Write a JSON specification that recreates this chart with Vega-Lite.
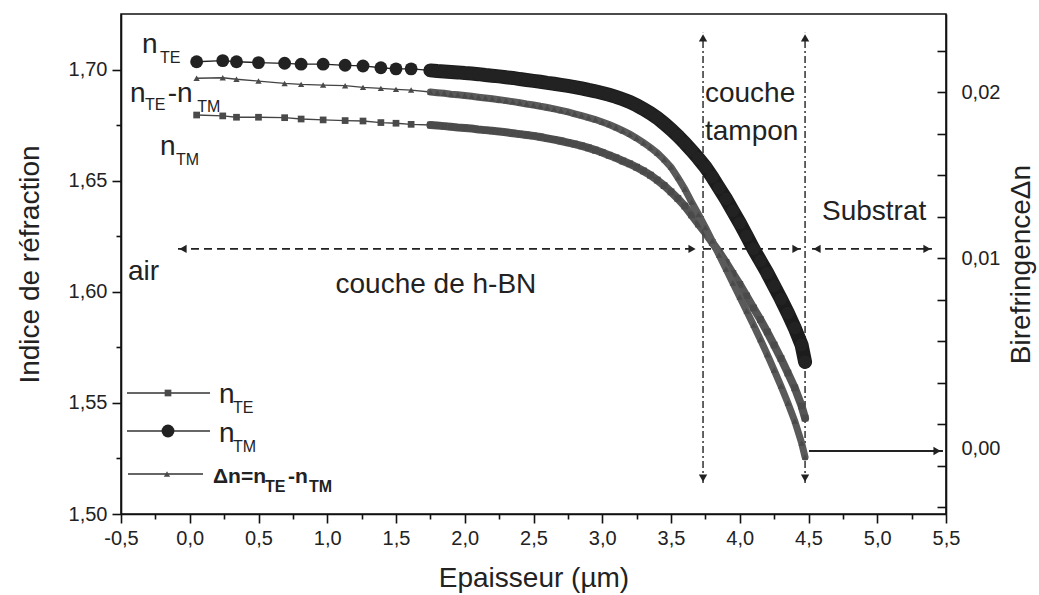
{
  "$schema": "https://vega.github.io/schema/vega-lite/v6.json",
  "width": 825,
  "height": 500,
  "autosize": {"type": "none"},
  "padding": {"left": 121, "top": 14, "right": 93, "bottom": 81},
  "background": "white",
  "config": {
    "font": "Liberation Sans",
    "view": {"stroke": "#111", "strokeWidth": 1.6},
    "axis": {"grid": false, "domainColor": "#111", "domainWidth": 1.6, "tickColor": "#111", "tickWidth": 1.6, "labelColor": "#222", "titleColor": "#222", "labelFontSize": 20, "titleFontSize": 28, "titleFontWeight": "normal", "labelOverlap": false, "labelFlush": false, "labelBound": false}
  },
  "datasets": {
    "nte": [
      {"x": 0.05, "y": 1.7037}, {"x": 0.24, "y": 1.7042}, {"x": 0.34, "y": 1.7037}, {"x": 0.5, "y": 1.7033}, {"x": 0.69, "y": 1.703}, {"x": 0.81, "y": 1.7026}, {"x": 0.97, "y": 1.7026}, {"x": 1.13, "y": 1.7021}, {"x": 1.26, "y": 1.7018}, {"x": 1.39, "y": 1.701}, {"x": 1.5, "y": 1.7005}, {"x": 1.61, "y": 1.7005},
      {"x": 1.75, "y": 1.6998}, {"x": 1.8, "y": 1.6995}, {"x": 1.85, "y": 1.6993}, {"x": 1.9, "y": 1.6991}, {"x": 1.95, "y": 1.6989}, {"x": 2.0, "y": 1.6986}, {"x": 2.05, "y": 1.6984}, {"x": 2.1, "y": 1.6981}, {"x": 2.15, "y": 1.6977}, {"x": 2.2, "y": 1.6974}, {"x": 2.25, "y": 1.6971}, {"x": 2.3, "y": 1.6967}, {"x": 2.35, "y": 1.6964}, {"x": 2.4, "y": 1.6959}, {"x": 2.45, "y": 1.6955}, {"x": 2.5, "y": 1.6951}, {"x": 2.55, "y": 1.6947}, {"x": 2.6, "y": 1.6942}, {"x": 2.65, "y": 1.6938}, {"x": 2.7, "y": 1.6933}, {"x": 2.75, "y": 1.6928}, {"x": 2.8, "y": 1.6923}, {"x": 2.85, "y": 1.6917}, {"x": 2.9, "y": 1.691}, {"x": 2.95, "y": 1.6904}, {"x": 3.0, "y": 1.6896}, {"x": 3.05, "y": 1.6888}, {"x": 3.1, "y": 1.6879}, {"x": 3.15, "y": 1.6868}, {"x": 3.2, "y": 1.6856}, {"x": 3.25, "y": 1.6841}, {"x": 3.3, "y": 1.6824}, {"x": 3.35, "y": 1.6805}, {"x": 3.4, "y": 1.6784}, {"x": 3.45, "y": 1.6759}, {"x": 3.5, "y": 1.6732}, {"x": 3.55, "y": 1.6703}, {"x": 3.6, "y": 1.6671}, {"x": 3.65, "y": 1.6637}, {"x": 3.7, "y": 1.6601}, {"x": 3.75, "y": 1.6563}, {"x": 3.8, "y": 1.6518}, {"x": 3.85, "y": 1.6468}, {"x": 3.9, "y": 1.6419}, {"x": 3.95, "y": 1.6365}, {"x": 4.0, "y": 1.6311}, {"x": 4.05, "y": 1.6253}, {"x": 4.1, "y": 1.6194}, {"x": 4.15, "y": 1.614}, {"x": 4.2, "y": 1.6086}, {"x": 4.25, "y": 1.6027}, {"x": 4.3, "y": 1.5968}, {"x": 4.35, "y": 1.5905}, {"x": 4.4, "y": 1.5838}, {"x": 4.45, "y": 1.5761}, {"x": 4.475, "y": 1.5685}
    ],
    "ntm": [
      {"x": 0.05, "y": 1.6797}, {"x": 0.24, "y": 1.6793}, {"x": 0.34, "y": 1.6787}, {"x": 0.5, "y": 1.6787}, {"x": 0.69, "y": 1.6785}, {"x": 0.81, "y": 1.6779}, {"x": 0.97, "y": 1.6775}, {"x": 1.13, "y": 1.6772}, {"x": 1.26, "y": 1.677}, {"x": 1.39, "y": 1.6763}, {"x": 1.5, "y": 1.676}, {"x": 1.61, "y": 1.6755},
      {"x": 1.75, "y": 1.6752}, {"x": 1.8, "y": 1.675}, {"x": 1.85, "y": 1.6747}, {"x": 1.9, "y": 1.6744}, {"x": 1.95, "y": 1.6741}, {"x": 2.0, "y": 1.6739}, {"x": 2.05, "y": 1.6736}, {"x": 2.1, "y": 1.6732}, {"x": 2.15, "y": 1.6729}, {"x": 2.2, "y": 1.6726}, {"x": 2.25, "y": 1.6723}, {"x": 2.3, "y": 1.6719}, {"x": 2.35, "y": 1.6715}, {"x": 2.4, "y": 1.6711}, {"x": 2.45, "y": 1.6707}, {"x": 2.5, "y": 1.6703}, {"x": 2.55, "y": 1.6698}, {"x": 2.6, "y": 1.6692}, {"x": 2.65, "y": 1.6686}, {"x": 2.7, "y": 1.668}, {"x": 2.75, "y": 1.6673}, {"x": 2.8, "y": 1.6666}, {"x": 2.85, "y": 1.6658}, {"x": 2.9, "y": 1.6649}, {"x": 2.95, "y": 1.6639}, {"x": 3.0, "y": 1.6628}, {"x": 3.05, "y": 1.6616}, {"x": 3.1, "y": 1.6604}, {"x": 3.15, "y": 1.659}, {"x": 3.2, "y": 1.6577}, {"x": 3.25, "y": 1.6562}, {"x": 3.3, "y": 1.6545}, {"x": 3.35, "y": 1.6526}, {"x": 3.4, "y": 1.6504}, {"x": 3.45, "y": 1.6479}, {"x": 3.5, "y": 1.6451}, {"x": 3.55, "y": 1.6421}, {"x": 3.6, "y": 1.6387}, {"x": 3.65, "y": 1.6347}, {"x": 3.7, "y": 1.6306}, {"x": 3.75, "y": 1.6266}, {"x": 3.8, "y": 1.6223}, {"x": 3.85, "y": 1.618}, {"x": 3.9, "y": 1.6133}, {"x": 3.95, "y": 1.6083}, {"x": 4.0, "y": 1.6034}, {"x": 4.05, "y": 1.5982}, {"x": 4.1, "y": 1.5928}, {"x": 4.15, "y": 1.5876}, {"x": 4.2, "y": 1.582}, {"x": 4.25, "y": 1.5761}, {"x": 4.3, "y": 1.57}, {"x": 4.35, "y": 1.5635}, {"x": 4.4, "y": 1.5568}, {"x": 4.45, "y": 1.5486}, {"x": 4.475, "y": 1.5432}
    ],
    "dn": [
      {"x": 0.05, "y": 0.02083}, {"x": 0.24, "y": 0.02086}, {"x": 0.34, "y": 0.02077}, {"x": 0.5, "y": 0.02066}, {"x": 0.69, "y": 0.02052}, {"x": 0.81, "y": 0.02046}, {"x": 0.97, "y": 0.02042}, {"x": 1.13, "y": 0.02038}, {"x": 1.26, "y": 0.02028}, {"x": 1.39, "y": 0.02022}, {"x": 1.5, "y": 0.02016}, {"x": 1.61, "y": 0.02012},
      {"x": 1.75, "y": 0.02}, {"x": 1.8, "y": 0.01996}, {"x": 1.85, "y": 0.01992}, {"x": 1.9, "y": 0.01987}, {"x": 1.95, "y": 0.01983}, {"x": 2.0, "y": 0.01979}, {"x": 2.05, "y": 0.01974}, {"x": 2.1, "y": 0.01969}, {"x": 2.15, "y": 0.01964}, {"x": 2.2, "y": 0.01959}, {"x": 2.25, "y": 0.01954}, {"x": 2.3, "y": 0.01948}, {"x": 2.35, "y": 0.01942}, {"x": 2.4, "y": 0.01935}, {"x": 2.45, "y": 0.01928}, {"x": 2.5, "y": 0.01922}, {"x": 2.55, "y": 0.01914}, {"x": 2.6, "y": 0.01907}, {"x": 2.65, "y": 0.01898}, {"x": 2.7, "y": 0.01889}, {"x": 2.75, "y": 0.0188}, {"x": 2.8, "y": 0.01869}, {"x": 2.85, "y": 0.01858}, {"x": 2.9, "y": 0.01846}, {"x": 2.95, "y": 0.01834}, {"x": 3.0, "y": 0.01819}, {"x": 3.05, "y": 0.01804}, {"x": 3.1, "y": 0.01786}, {"x": 3.15, "y": 0.01767}, {"x": 3.2, "y": 0.01746}, {"x": 3.25, "y": 0.01722}, {"x": 3.3, "y": 0.01695}, {"x": 3.35, "y": 0.01666}, {"x": 3.4, "y": 0.01633}, {"x": 3.45, "y": 0.01593}, {"x": 3.5, "y": 0.01548}, {"x": 3.55, "y": 0.01485}, {"x": 3.6, "y": 0.01416}, {"x": 3.65, "y": 0.01337}, {"x": 3.7, "y": 0.01262}, {"x": 3.75, "y": 0.01184}, {"x": 3.8, "y": 0.01102}, {"x": 3.85, "y": 0.01018}, {"x": 3.9, "y": 0.00934}, {"x": 3.95, "y": 0.00849}, {"x": 4.0, "y": 0.00765}, {"x": 4.05, "y": 0.00681}, {"x": 4.1, "y": 0.00596}, {"x": 4.15, "y": 0.00509}, {"x": 4.2, "y": 0.00419}, {"x": 4.25, "y": 0.00325}, {"x": 4.3, "y": 0.00229}, {"x": 4.35, "y": 0.00127}, {"x": 4.4, "y": 0.00018}, {"x": 4.45, "y": -0.00114}, {"x": 4.475, "y": -0.00199}
    ],
    "rules": [
      {"k": "v", "x": 3.733, "x2": 3.733, "y": 1.514, "y2": 1.7167},
      {"k": "v", "x": 4.475, "x2": 4.475, "y": 1.514, "y2": 1.7167},
      {"k": "h", "x": -0.0855, "x2": 3.689, "y": 1.6194, "y2": 1.6194},
      {"k": "h", "x": 3.733, "x2": 4.445, "y": 1.6194, "y2": 1.6194},
      {"k": "h", "x": 4.5255, "x2": 5.398, "y": 1.6194, "y2": 1.6194},
      {"k": "s", "x": 4.5036, "x2": 5.478, "y": 1.5284, "y2": 1.5284},
      {"k": "l", "x": -0.4564, "x2": 0.1473, "y": 1.5545, "y2": 1.5545},
      {"k": "l", "x": -0.4564, "x2": 0.1473, "y": 1.5374, "y2": 1.5374},
      {"k": "l", "x": -0.4491, "x2": 0.0964, "y": 1.518, "y2": 1.518}
    ],
    "heads": [
      {"d": "up", "x": 3.733, "y": 1.7144}, {"d": "down", "x": 3.733, "y": 1.5162},
      {"d": "up", "x": 4.475, "y": 1.7144}, {"d": "down", "x": 4.475, "y": 1.5162},
      {"d": "left", "x": -0.049, "y": 1.6194}, {"d": "right", "x": 3.653, "y": 1.6194},
      {"d": "right", "x": 4.409, "y": 1.6194}, {"d": "left", "x": 4.562, "y": 1.6194},
      {"d": "right", "x": 5.362, "y": 1.6194}, {"d": "right", "x": 5.435, "y": 1.5284}
    ],
    "legmk": [
      {"m": "sq", "x": -0.1582, "y": 1.5545},
      {"m": "ci", "x": -0.1582, "y": 1.5374},
      {"m": "tr", "x": -0.1655, "y": 1.518}
    ],
    "txt": [
      {"k": "main", "x": -0.449, "y": 1.6054, "t": "air"},
      {"k": "main", "x": 1.06, "y": 1.5995, "t": "couche de h-BN"},
      {"k": "main", "x": 3.747, "y": 1.6856, "t": "couche"},
      {"k": "main", "x": 3.747, "y": 1.6685, "t": "tampon"},
      {"k": "main", "x": 4.598, "y": 1.6324, "t": "Substrat"},
      {"k": "main", "x": -0.3473, "y": 1.7077, "t": "n"},
      {"k": "sub", "x": -0.2164, "y": 1.7032, "t": "TE"},
      {"k": "main", "x": -0.4345, "y": 1.6856, "t": "n"},
      {"k": "sub", "x": -0.3255, "y": 1.682, "t": "TE"},
      {"k": "main", "x": -0.16, "y": 1.6856, "t": "-n"},
      {"k": "sub", "x": 0.055, "y": 1.6811, "t": "TM"},
      {"k": "main", "x": -0.2164, "y": 1.6617, "t": "n"},
      {"k": "sub", "x": -0.1, "y": 1.6572, "t": "TM"},
      {"k": "main", "x": 0.2127, "y": 1.55, "t": "n"},
      {"k": "sub", "x": 0.3145, "y": 1.5455, "t": "TE"},
      {"k": "main", "x": 0.2127, "y": 1.5324, "t": "n"},
      {"k": "sub", "x": 0.3145, "y": 1.5279, "t": "TM"},
      {"k": "bold", "x": 0.169, "y": 1.514, "t": "Δn=n"},
      {"k": "boldsub", "x": 0.5473, "y": 1.5099, "t": "TE"},
      {"k": "bold", "x": 0.7145, "y": 1.514, "t": "-n"},
      {"k": "boldsub", "x": 0.8673, "y": 1.5099, "t": "TM"}
    ]
  },
  "encoding": {
    "x": {
      "field": "x", "type": "quantitative",
      "scale": {"domain": [-0.5, 5.5], "nice": false, "zero": false},
      "axis": {
        "title": "Epaisseur (µm)",
        "values": [-0.5, -0.25, 0, 0.25, 0.5, 0.75, 1, 1.25, 1.5, 1.75, 2, 2.25, 2.5, 2.75, 3, 3.25, 3.5, 3.75, 4, 4.25, 4.5, 4.75, 5, 5.25, 5.5],
        "labelExpr": "abs(round(datum.value*4)) % 2 == 1 ? '' : replace(replace(format(datum.value, '.1f'), '.', ','), '\u2212', '-')",
        "tickSize": {"condition": {"test": "abs(round(datum.value*4)) % 2 == 1", "value": 5}, "value": 9},
        "labelPadding": 5,
        "titlePadding": 16
      }
    }
  },
  "layer": [
    {
      "encoding": {
        "y": {
          "field": "y", "type": "quantitative",
          "scale": {"domain": [1.5, 1.7252], "nice": false, "zero": false},
          "axis": {
            "title": "Indice de réfraction",
            "orient": "left",
            "values": [1.5, 1.525, 1.55, 1.575, 1.6, 1.625, 1.65, 1.675, 1.7],
            "labelExpr": "abs(round(datum.value*40)) % 2 == 1 ? '' : replace(format(datum.value, '.2f'), '.', ',')",
            "tickSize": {"condition": {"test": "abs(round(datum.value*40)) % 2 == 1", "value": 5}, "value": 9},
            "labelPadding": 5,
            "titlePadding": 24
          }
        }
      },
      "layer": [
        {"data": {"name": "rules"}, "transform": [{"filter": "datum.k == 'v'"}], "mark": {"type": "rule", "color": "#222", "strokeWidth": 1.4, "strokeDash": [7, 3, 2, 3]}, "encoding": {"x2": {"field": "x2"}, "y2": {"field": "y2"}}},
        {"data": {"name": "rules"}, "transform": [{"filter": "datum.k == 'h'"}], "mark": {"type": "rule", "color": "#222", "strokeWidth": 1.6, "strokeDash": [8, 5]}, "encoding": {"x2": {"field": "x2"}, "y2": {"field": "y2"}}},
        {"data": {"name": "rules"}, "transform": [{"filter": "datum.k == 's'"}], "mark": {"type": "rule", "color": "#222", "strokeWidth": 2}, "encoding": {"x2": {"field": "x2"}, "y2": {"field": "y2"}}},
        {"data": {"name": "rules"}, "transform": [{"filter": "datum.k == 'l'"}], "mark": {"type": "rule", "color": "#333", "strokeWidth": 1.4}, "encoding": {"x2": {"field": "x2"}, "y2": {"field": "y2"}}},
        {"data": {"name": "heads"}, "mark": {"type": "point", "filled": true, "size": 70, "color": "#222", "opacity": 1}, "encoding": {"shape": {"field": "d", "type": "nominal", "scale": {"domain": ["up", "down", "left", "right"], "range": ["triangle-up", "triangle-down", "triangle-left", "triangle-right"]}, "legend": null}}},
        {"data": {"name": "ntm"}, "mark": {"type": "line", "color": "#444", "strokeWidth": 1.3}},
        {"data": {"name": "ntm"}, "transform": [{"filter": "datum.x >= 1.74"}], "mark": {"type": "line", "color": "#555", "strokeWidth": 8, "strokeCap": "round"}},
        {"data": {"name": "ntm"}, "mark": {"type": "point", "shape": "square", "filled": true, "size": 45, "color": "#4a4a4a", "opacity": 1}},
        {"data": {"name": "nte"}, "mark": {"type": "line", "color": "#222", "strokeWidth": 1.3}},
        {"data": {"name": "nte"}, "transform": [{"filter": "datum.x >= 1.74"}], "mark": {"type": "line", "color": "#1c1c1c", "strokeWidth": 14, "strokeCap": "round"}},
        {"data": {"name": "nte"}, "mark": {"type": "point", "shape": "circle", "filled": true, "size": 165, "color": "#222", "opacity": 1}},
        {"data": {"name": "legmk"}, "transform": [{"filter": "datum.m == 'sq'"}], "mark": {"type": "point", "shape": "square", "filled": true, "size": 45, "color": "#4a4a4a", "opacity": 1}},
        {"data": {"name": "legmk"}, "transform": [{"filter": "datum.m == 'ci'"}], "mark": {"type": "point", "shape": "circle", "filled": true, "size": 165, "color": "#222", "opacity": 1}},
        {"data": {"name": "legmk"}, "transform": [{"filter": "datum.m == 'tr'"}], "mark": {"type": "point", "shape": "triangle-up", "filled": true, "size": 40, "color": "#4a4a4a", "opacity": 1}},
        {"data": {"name": "txt"}, "transform": [{"filter": "datum.k == 'main'"}], "mark": {"type": "text", "align": "left", "baseline": "alphabetic", "fontSize": 28, "color": "#222"}, "encoding": {"text": {"field": "t"}}},
        {"data": {"name": "txt"}, "transform": [{"filter": "datum.k == 'sub'"}], "mark": {"type": "text", "align": "left", "baseline": "alphabetic", "fontSize": 16, "color": "#222"}, "encoding": {"text": {"field": "t"}}},
        {"data": {"name": "txt"}, "transform": [{"filter": "datum.k == 'bold'"}], "mark": {"type": "text", "align": "left", "baseline": "alphabetic", "fontSize": 21, "fontWeight": "bold", "color": "#222"}, "encoding": {"text": {"field": "t"}}},
        {"data": {"name": "txt"}, "transform": [{"filter": "datum.k == 'boldsub'"}], "mark": {"type": "text", "align": "left", "baseline": "alphabetic", "fontSize": 16, "fontWeight": "bold", "color": "#222"}, "encoding": {"text": {"field": "t"}}}
      ]
    },
    {
      "encoding": {
        "y": {
          "field": "y", "type": "quantitative",
          "scale": {"domain": [-0.00542, 0.0247], "nice": false, "zero": false},
          "axis": {
            "title": "BirefringenceΔn",
            "orient": "right",
            "values": [-0.005, -0.0025, 0, 0.0025, 0.005, 0.0075, 0.01, 0.0125, 0.015, 0.0175, 0.02, 0.0225],
            "labelExpr": "abs(round(datum.value*400)) % 4 == 0 ? replace(format(datum.value, '.2f'), '.', ',') : ''",
            "tickSize": -9,
            "labelPadding": 24,
            "labelOffset": {"condition": {"test": "datum.value == 0", "value": 24}, "value": 0},
            "titleAngle": 270,
            "titleBaseline": "top",
            "titlePadding": 8
          }
        }
      },
      "layer": [
        {"data": {"name": "dn"}, "mark": {"type": "line", "color": "#444", "strokeWidth": 1.3}},
        {"data": {"name": "dn"}, "transform": [{"filter": "datum.x >= 1.74"}], "mark": {"type": "line", "color": "#5a5a5a", "strokeWidth": 7, "strokeCap": "round"}},
        {"data": {"name": "dn"}, "mark": {"type": "point", "shape": "triangle-up", "filled": true, "size": 40, "color": "#4a4a4a", "opacity": 1}}
      ]
    }
  ],
  "resolve": {"scale": {"y": "independent"}}
}
